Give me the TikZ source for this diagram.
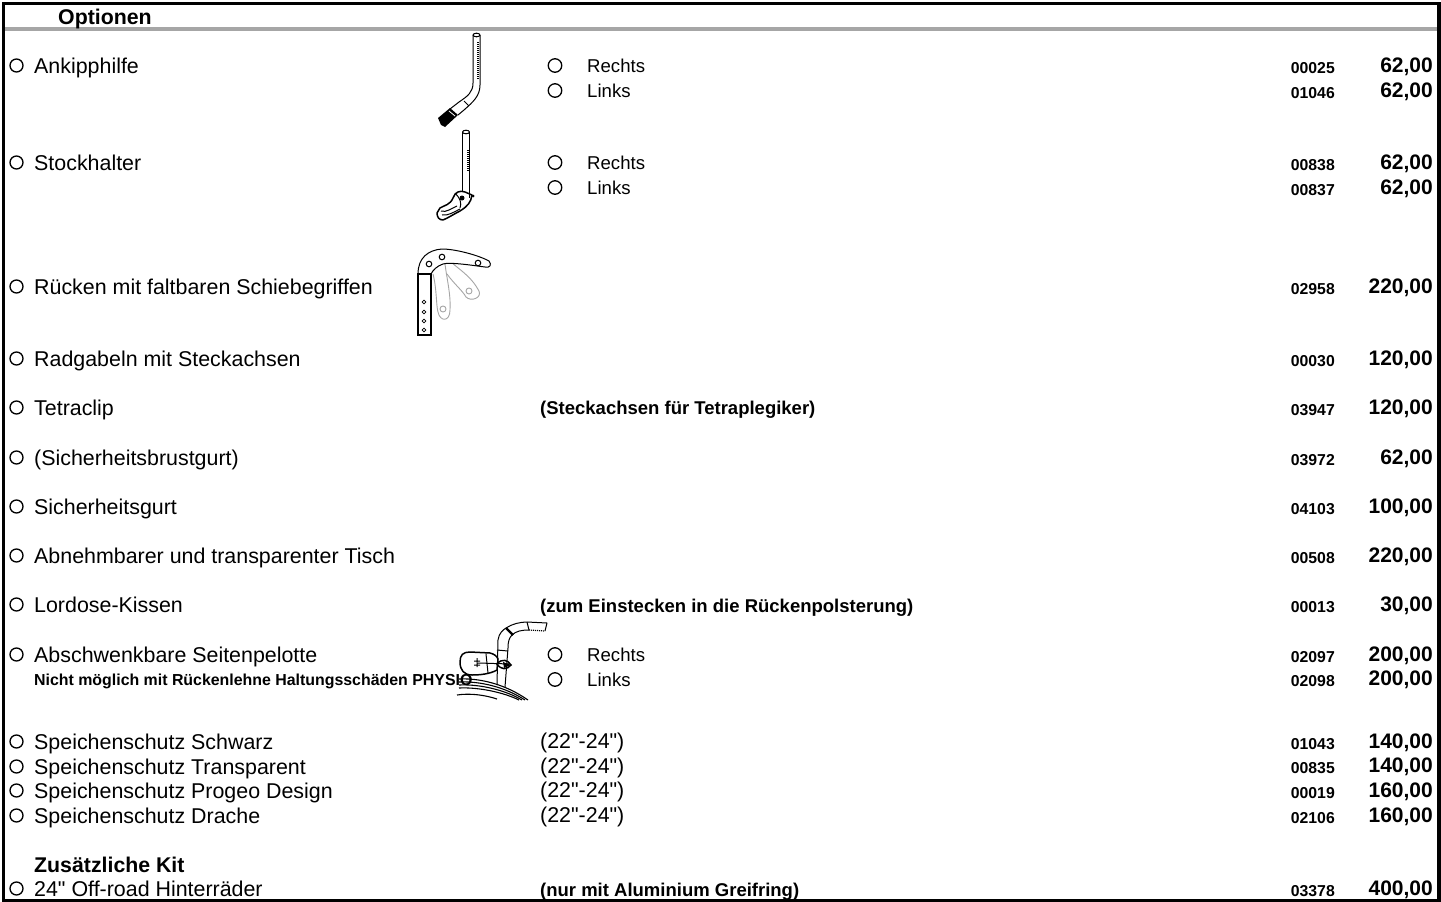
\documentclass[tikz,border=0pt]{standalone}
\usepackage{fontspec}
\setmainfont{Liberation Sans}[Ligatures=TeXOff]
\tikzset{
  lab/.style={anchor=base west, inner sep=0pt, font=\fontsize{21.4}{22}\selectfont},
  boldlab/.style={anchor=base west, inner sep=0pt, font=\bfseries\fontsize{21.3}{22}\selectfont},
  sublab/.style={anchor=base west, inner sep=0pt, font=\fontsize{18.6}{20}\selectfont},
  notelab/.style={anchor=base west, inner sep=0pt, font=\bfseries\fontsize{18.5}{20}\selectfont},
  codelab/.style={anchor=base east, inner sep=0pt, font=\bfseries\fontsize{15.8}{16}\selectfont},
  pricelab/.style={anchor=base east, inner sep=0pt, font=\bfseries\fontsize{21}{22}\selectfont},
  tick/.style={circle, draw, line width=1.3pt, inner sep=0pt, minimum size=13pt},
  subtick/.style={circle, draw, line width=1.3pt, inner sep=0pt, minimum size=13.5pt},
  sketch/.style={line width=1pt, line join=round},
  ghost/.style={line width=.9pt, draw=black!35}
}
\begin{document}
\begin{tikzpicture}[x=1pt,y=-1pt]
  \useasboundingbox (0,0) rectangle (1441,902);
  \fill[white] (0,0) rectangle (1441,902);

  % frame
  \fill[black!35] (4,27) rectangle (1437,31);
  \fill (2,1.5) rectangle (1440.5,5);
  \fill (2,1.5) rectangle (5,902);
  \fill (1437,1.5) rectangle (1440.5,902);
  \fill (2,898.5) rectangle (1440.5,902);

  \node[boldlab] (title) at (58,24.5) {Optionen};

  \foreach \y/\n/\lab in {
    73/a/Ankipphilfe,
    170/b/Stockhalter,
    294/c/Rücken mit faltbaren Schiebegriffen,
    366/d/Radgabeln mit Steckachsen,
    415/e/Tetraclip,
    465/f/(Sicherheitsbrustgurt),
    514/g/Sicherheitsgurt,
    563/h/Abnehmbarer und transparenter Tisch,
    612/i/Lordose-Kissen,
    662/j/Abschwenkbare Seitenpelotte,
    749/k/Speichenschutz Schwarz,
    774/l/Speichenschutz Transparent,
    798/m/Speichenschutz Progeo Design,
    823/n/Speichenschutz Drache,
    896/o/24" Off-road Hinterräder%
  } {
    \node[lab] (lab\n) at (34,\y) {\lab};
    \node[tick] (tick\n) at (16.5,\y-7.5) {};
  }

  \foreach \y/\n/\lab in {
    72/a/Rechts,
    97/b/Links,
    169/c/Rechts,
    194/d/Links,
    661/e/Rechts,
    686/f/Links%
  } {
    \node[sublab] (side\n) at (587,\y) {\lab};
    \node[subtick] (sidetick\n) at (555,\y-6.5) {};
  }

  \foreach \y/\cod/\pr in {
    72/00025/{62,00},
    97/01046/{62,00},
    169/00838/{62,00},
    194/00837/{62,00},
    293/02958/{220,00},
    365/00030/{120,00},
    414/03947/{120,00},
    464/03972/{62,00},
    513/04103/{100,00},
    562/00508/{220,00},
    611/00013/{30,00},
    661/02097/{200,00},
    685/02098/{200,00},
    748/01043/{140,00},
    772/00835/{140,00},
    797/00019/{160,00},
    822/02106/{160,00},
    895/03378/{400,00}%
  } {
    \node[codelab] (code\cod) at (1335,\y+1) {\cod};
    \node[pricelab] (price\cod) at (1433,\y) {\pr};
  }

  \node[notelab] (note1) at (540,414) {(Steckachsen für Tetraplegiker)};
  \node[notelab] (note2) at (540,612) {(zum Einstecken in die Rückenpolsterung)};
  \node[notelab] (note3) at (540,896) {(nur mit Aluminium Greifring)};
  \node[anchor=base west, inner sep=0pt, font=\bfseries\fontsize{15.9}{16}\selectfont] (note4) at (34,685.5) {Nicht möglich mit Rückenlehne Haltungsschäden PHYSIO};
  \node[boldlab] (kit) at (34,872) {Zusätzliche Kit};

  \foreach \y/\n in {748/a, 773/b, 797/c, 822/d} {
    \node[lab] (size\n) at (540,\y) {(22"-24")};
  }

  % kipp tube
  \draw[sketch] (473,35) -- (473,83) .. controls (473,92) and (468,96) .. (459,102) -- (450,109);
  \draw[sketch] (480,35) -- (480,85) .. controls (480,96) and (473,102) .. (464,110) -- (458,115);
  \draw[sketch] (476.5,35) ellipse (3.5 and 1.8);
  \draw[sketch, densely dotted, line width=1.2pt] (478,42) -- (478,80);
  \draw[sketch] (464,101) -- (469,106);
  \fill (438,118) -- (450,108) -- (458,115) -- (445,127) -- (441,125) -- cycle;
  \draw[white, line width=.8pt] (449,111) -- (455,116);
  % stick holder
  \draw[sketch] (462.5,132) -- (462.5,192) (469.5,132) -- (469.5,198);
  \draw[sketch] (466,132) ellipse (3.5 and 1.8);
  \draw[sketch, densely dotted, line width=1.2pt] (468,150) -- (468,172);
  \draw[line width=1.5pt, line join=round] (437,213) -- (440,208) .. controls (445,205) and (450,205) .. (453,198) .. controls (455,192) and (460,190) .. (465,192) -- (472,195) .. controls (471,202) and (468,206) .. (460,211) .. controls (454,214) and (448,218) .. (443,220) .. controls (439,220) and (437,217) .. (437,213) -- cycle;
  \draw[sketch] (441,211) .. controls (446,213) and (452,208) .. (457,206) (442,215) .. controls (448,216) and (454,212) .. (460,209);
  \draw[sketch] (455,193) .. controls (460,198) and (462,203) .. (460,208);
  \fill (462,198) circle (2.5) (473,196) circle (1.5);

  % folding push handle
  \draw[ghost] (433,274) .. controls (437,290) and (436,305) .. (438,312) .. controls (440,322) and (450,322) .. (450,310) .. controls (451,295) and (447,280) .. (445,264);
  \draw[ghost] (447,274) .. controls (455,285) and (462,290) .. (466,297) .. controls (471,302) and (482,298) .. (479,291) .. controls (472,278) and (463,272) .. (452,263);
  \draw[ghost] (443,309) circle (3) (469,291) circle (3);
  \draw[sketch, fill=white] (418,274) .. controls (418,258) and (428,250) .. (442,249) .. controls (455,249) and (478,255) .. (489,261) .. controls (492,265) and (490,268) .. (485,267) .. controls (470,265) and (450,262) .. (443,264) .. controls (437,266) and (433,270) .. (431,274);
  \draw[line width=1.3pt, fill=white] (418,274) rectangle (431,335);
  \foreach \x/\y in {429/264, 442/257, 478/263} {
    \draw[sketch] (\x,\y) circle (2.8);
  }
  \foreach \y in {302, 312, 321, 330} {
    \draw[line width=.7pt] (424,\y) circle (1.8);
  }

  % side pad and wheel
  \draw[sketch] (497,685) -- (498,640) .. controls (499,633) and (503,630) .. (506,628) .. controls (512,624) and (520,622) .. (527,622) -- (547,623) -- (545,631);
  \draw[sketch] (505,687) -- (508,648) .. controls (508,642) and (509,638) .. (512,635) .. controls (516,631) and (522,630) .. (529,630);
  \draw[sketch, densely dotted, line width=1.2pt] (529,630) -- (545,631);
  \draw[sketch] (527,622) -- (529,630) (497,650) -- (508,651);
  \draw[line width=2.4pt] (506,628) -- (513,635);
  \draw[line width=1.5pt] (460,662) .. controls (460,655) and (463,652) .. (470,652) -- (490,653) .. controls (494,654) and (497,656) .. (498,659) -- (497,670) .. controls (490,674) and (480,675) .. (472,675) .. controls (464,675) and (460,670) .. (460,662) -- cycle;
  \draw[sketch] (478,663) -- (510,664) (486,654) -- (488,673) (477,658) -- (477,667) (474,661) -- (480,661) (474,665) -- (480,665);
  \draw[line width=1.5pt] (497,664) .. controls (502,658) and (508,660) .. (511,665) .. controls (507,670) and (501,670) .. (497,664) -- cycle;
  \fill (503,662) -- (511,665) -- (504,668) -- cycle;
  \foreach \s/\ey in {0/700, 3/700, 6/700, 9/700} {
    \draw[line width=1.1pt] (459,679+\s) .. controls (480,678+\s) and (505,684+\s) .. (528-\s,\ey);
  }
  \draw[line width=1.1pt] (457,695) .. controls (470,693) and (485,695) .. (497,699);
\end{tikzpicture}
\end{document}
